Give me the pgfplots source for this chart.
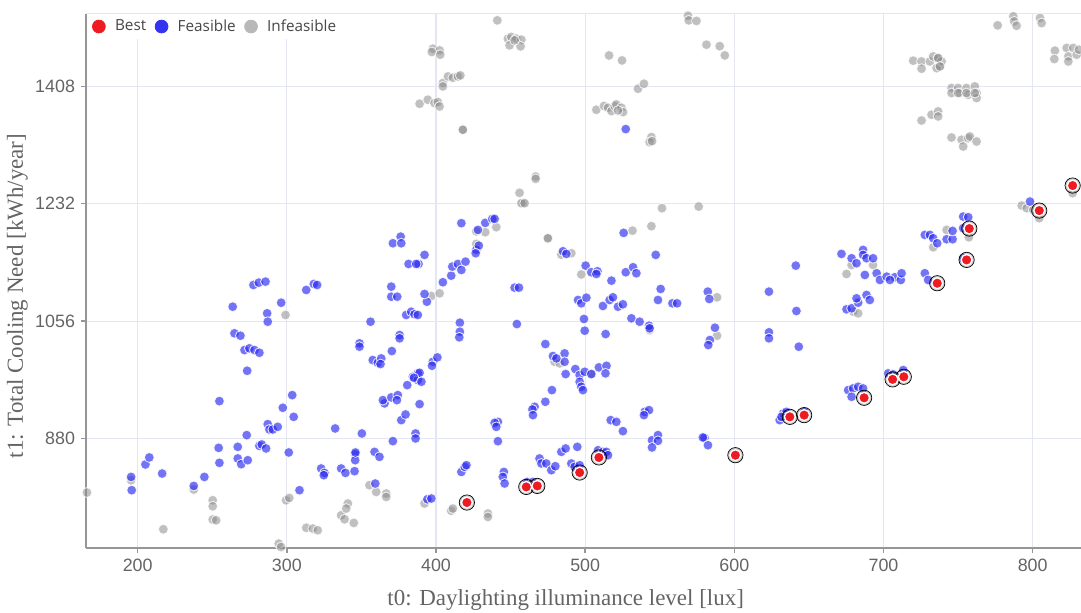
\documentclass[border=0pt]{standalone}
\usepackage{pgfplots}
\pgfplotsset{compat=1.18}
\usepackage{fontspec}
\setmainfont{Liberation Serif}
\newfontfamily\tickfont{Liberation Sans}
\newfontfamily\legendfont{Open Sans}

\definecolor{bestcol}{RGB}{238,28,34}
\definecolor{feascol}{RGB}{40,40,240}
\definecolor{infcol}{RGB}{140,140,140}
\definecolor{gridcol}{RGB}{228,230,244}
\definecolor{axiscol}{RGB}{150,150,150}
\definecolor{labcol}{RGB}{100,100,100}

\begin{document}
\begin{tikzpicture}
\begin{axis}[
    width=585pt, height=314pt, scale only axis,
    xmin=165.4, xmax=832.4, ymin=715.7, ymax=1516.7,
    xtick={200,300,400,500,600,700,800},
    ytick={880,1056,1232,1408},
    axis lines*=left,
    axis line style={draw=axiscol, line width=0.9pt},
    tick style={draw=axiscol, line width=0.8pt},
    tick align=outside, major tick length=3pt,
    xmajorgrids, ymajorgrids,
    grid style={draw=gridcol, line width=0.6pt},
    /pgf/number format/assume math mode=true,
    /pgf/number format/1000 sep={},
    ticklabel style={font=\tickfont\fontsize{10.5}{12}\selectfont, text=labcol},
    xlabel={t0: Daylighting illuminance level [lux]},
    ylabel={t1: Total Cooling Need [kWh/year]},
    label style={font=\fontsize{13.5}{15}\selectfont, text=labcol},
    xlabel style={at={(axis description cs:0.482,-0.097)}, anchor=center},
    ylabel style={at={(axis description cs:-0.069,0.472)}, anchor=center},
    legend columns=3,
    legend style={at={(axis description cs:0.004,1.0)}, anchor=north west,
        draw=none, fill=white, inner sep=1pt,
        font=\legendfont\fontsize{9}{11}\selectfont, text=black!72,
        /tikz/every odd column/.append style={column sep=3.5pt},
        /tikz/every even column/.append style={column sep=3pt}},
]
\addlegendimage{legend image code/.code={\fill[bestcol] (0pt,0pt) circle (3.8pt);}}
\addlegendentry{Best}
\addlegendimage{legend image code/.code={\fill[feascol!95!white] (0pt,0pt) circle (3.8pt);}}
\addlegendentry{Feasible}
\addlegendimage{legend image code/.code={\fill[black!28] (0pt,0pt) circle (3.8pt);}}
\addlegendentry{Infeasible}

\draw[gridcol, line width=0.6pt] (rel axis cs:0,1) -- (rel axis cs:1,1);

% infeasible
\addplot[only marks, mark=*, mark size=2.9pt, forget plot,
    mark options={fill=infcol, fill opacity=0.55, draw=white, draw opacity=0.8, line width=0.5pt}]
coordinates {
(166.0,798.9)(195.6,817.4)(217.2,743.8)(237.6,803.4)(250.3,787.3)(250.3,778.3)(250.3,758.4)
(252.6,757.3)(299.5,787.3)(301.6,790.8)(294.6,722.3)(296.1,717.2)(313.0,746.0)(317.4,744.8)
(320.7,742.3)(336.4,764.8)(338.7,758.8)(344.9,753.3)(340.9,782.4)(339.8,774.9)(355.4,809.9)
(359.9,799.8)(366.6,797.4)(366.6,792.3)(299.1,1065.2)(392.3,782.4)(410.2,771.6)(411.3,774.9)
(434.8,767.4)(434.8,762.3)(396.8,1093.7)(402.4,1097.7)(427.0,1190.6)(433.0,1189.4)(440.4,1196.9)
(427.0,1171.8)(475.0,1180.3)(475.0,1180.3)(484.0,1155.7)(490.7,1157.8)(497.4,1126.0)(479.5,995.0)
(482.9,992.6)(504.1,976.6)(458.3,1232.9)(456.0,1248.4)(457.2,1232.9)(459.4,1232.9)(466.8,1272.8)
(466.8,1269.4)(418.0,1343.0)(418.0,1343.0)(389.0,1382.0)(394.5,1388.0)(399.0,1383.1)(401.2,1384.6)
(402.4,1377.9)(404.6,1413.1)(404.6,1408.0)(408.0,1423.0)(411.3,1421.0)(414.7,1423.0)(416.3,1424.5)
(397.9,1464.6)(402.4,1462.1)(397.2,1459.7)(402.8,1455.6)(441.1,1507.1)(448.2,1479.6)(450.5,1482.2)
(453.8,1479.6)(457.2,1478.1)(449.3,1469.6)(456.7,1468.1)(452.7,1477.1)(507.5,1373.0)(512.6,1378.6)
(515.3,1376.0)(517.6,1371.0)(519.8,1378.6)(520.9,1381.0)(524.3,1376.0)(525.4,1369.5)(522.0,1371.9)
(516.0,1454.5)(524.7,1447.0)(535.4,1404.5)(539.4,1412.0)(544.4,1332.0)(543.2,1324.5)(544.8,1326.0)
(551.5,1225.4)(576.1,1227.8)(544.4,1198.4)(531.7,1191.7)(568.9,1514.0)(569.4,1507.1)(574.6,1506.2)
(581.3,1470.6)(590.2,1468.4)(593.6,1454.5)(588.4,1091.7)(588.4,1034.1)(543.2,1042.6)(675.2,1126.7)
(693.0,1140.2)(678.6,1140.2)(679.7,1070.1)(683.0,1067.7)(733.3,1166.8)(742.3,1192.8)(757.2,1181.8)
(792.6,1229.3)(796.0,1225.4)(800.4,1222.8)(804.4,1210.4)(826.8,1247.9)
(719.9,1446.6)(725.5,1445.5)(725.5,1434.6)(731.1,1445.5)(733.3,1453.0)(736.6,1450.5)(737.8,1438.0)
(735.6,1435.5)(738.9,1445.5)(736.6,1450.5)(737.8,1438.0)
(745.6,1405.6)(745.6,1398.1)(750.0,1405.6)(751.2,1398.1)(755.6,1405.6)(756.7,1395.5)(761.2,1408.0)
(762.4,1398.1)(762.4,1390.6)(750.0,1398.1)(755.6,1398.1)(761.2,1398.1)
(725.5,1356.9)(732.2,1365.5)(736.6,1370.5)(736.6,1363.0)(745.6,1331.4)(752.3,1328.0)(753.4,1317.9)
(756.8,1330.5)(757.9,1332.9)(762.4,1325.4)(776.5,1499.6)(787.0,1513.1)(787.6,1505.6)(789.2,1499.0)
(804.9,1510.7)(806.0,1503.0)(814.9,1461.6)(814.5,1449.1)(822.8,1465.7)(823.9,1453.0)(827.2,1465.7)
(829.5,1455.6)(823.9,1445.5)(831.0,1463.1)
};

% feasible
\addplot[only marks, mark=*, mark size=2.9pt, forget plot,
    mark options={fill=feascol, fill opacity=0.65, draw=white, draw opacity=0.85, line width=0.5pt}]
coordinates {
(195.6,822.3)(196.0,802.4)(205.2,841.0)(207.8,851.5)(216.4,827.4)(237.6,808.8)(244.7,822.3)
(254.3,865.9)(254.8,843.4)(254.8,936.0)(263.7,1077.6)(264.9,1037.7)(268.9,1034.1)(267.1,867.4)
(267.1,850.0)(269.4,841.4)(273.8,847.4)(271.6,1012.6)(274.9,1015.2)(278.3,1012.6)(281.6,1008.5)
(273.4,981.5)(277.6,1110.2)(281.2,1113.7)(285.7,1115.2)(273.1,885.0)(281.6,868.9)(283.2,871.0)
(286.1,865.0)(286.8,1067.7)(287.2,1055.1)(287.2,901.5)(288.3,893.5)(290.6,893.5)(293.9,897.4)
(296.2,1083.6)(297.3,926.0)(303.6,945.0)(304.6,912.4)(301.3,859.0)(308.5,802.4)(313.0,1102.7)
(318.1,1111.7)(320.3,1110.2)(323.0,835.0)(325.2,828.3)(324.8,824.9)(332.4,895.0)(336.4,835.0)
(339.3,828.3)(345.4,830.9)(345.8,856.4)(345.8,847.4)(346.0,859.0)(348.7,1022.7)(348.7,1017.6)
(350.3,887.5)(356.1,1055.1)(357.6,997.6)(361.0,993.5)(363.3,1000.1)(362.8,991.6)(358.8,859.9)
(362.1,852.4)(359.3,812.4)(370.4,1011.1)(371.1,876.0)(375.6,1035.1)(375.6,1030.2)(370.0,1107.7)
(370.0,1092.6)(374.0,1092.6)(371.1,1172.8)(376.3,1182.7)(376.7,1172.8)(380.0,1065.2)(383.4,1070.1)
(385.6,1066.2)(387.8,1065.2)(365.5,932.6)(364.4,937.5)(370.0,941.6)(374.4,945.0)(373.8,937.5)
(376.7,907.5)(379.6,916.0)(380.7,960.0)(384.5,972.5)(387.8,977.6)(387.8,967.5)(386.3,887.5)
(386.3,880.0)(381.6,1141.7)(388.3,1141.7)(392.3,1155.3)(386.7,1141.7)(389.0,931.5)(393.9,1085.1)
(392.3,1096.7)(397.9,995.0)(400.9,1001.6)(397.3,989.0)(389.0,978.5)(385.2,971.0)(390.2,965.0)
(394.2,788.8)(396.9,789.9)(404.6,1114.3)(410.2,1124.2)(410.9,1137.7)(414.7,1141.7)(419.8,1145.2)
(417.0,1132.7)(417.0,1202.9)(428.1,1192.8)(433.0,1203.3)(437.7,1209.3)(439.3,1209.3)(427.0,1163.0)
(428.7,1169.2)(426.6,1157.8)(416.0,1053.6)(416.0,1040.1)(415.6,1031.7)(417.0,829.8)(419.3,837.4)
(420.4,839.9)(441.5,904.9)(439.3,903.4)(440.4,897.4)(441.5,875.9)(445.5,829.8)(444.8,822.3)
(446.0,812.4)(452.7,1106.2)(455.6,1106.2)(454.2,1051.6)(461.2,814.8)(464.9,814.8)(462.7,807.3)
(469.4,850.0)(470.6,842.5)(473.9,842.5)(477.3,832.4)(480.0,838.4)(484.0,859.9)(486.9,865.0)
(494.7,867.4)(490.7,842.5)(492.9,837.4)(496.3,839.9)(508.6,862.4)(511.9,859.9)(514.2,859.9)
(515.3,854.9)(473.3,1021.6)(478.4,1003.6)(486.2,1007.6)(486.2,995.0)(486.9,976.6)(480.7,1000.1)
(493.4,984.1)(496.3,975.1)(499.7,980.0)(504.1,976.6)(509.2,986.6)(514.3,989.0)(513.6,977.6)
(496.3,965.0)(497.4,957.5)(498.5,952.5)(477.7,952.5)(473.3,935.0)(466.1,927.5)(464.6,923.5)
(465.0,915.0)(485.1,1160.8)(487.4,1156.8)(500.3,1139.2)(504.1,1129.3)(508.2,1130.8)(507.5,1126.7)
(517.6,1116.7)(527.2,1129.3)(532.1,1136.8)(534.3,1127.8)(525.8,1188.3)(547.3,1155.3)(550.6,1104.2)
(548.8,1087.7)(558.5,1082.7)(561.6,1082.7)(495.2,1087.7)(497.4,1082.7)(500.8,1091.1)(511.9,1078.7)
(516.4,1087.7)(518.6,1091.7)(522.0,1077.6)(525.3,1081.2)(499.2,1059.2)(499.7,1041.6)(513.7,1036.6)
(531.0,1060.2)(536.5,1055.1)(542.8,1049.1)(543.2,1045.2)(517.1,907.5)(520.9,904.9)(525.3,891.0)
(539.9,919.9)(542.8,922.5)(539.4,915.0)(544.8,877.4)(548.8,885.0)(548.8,876.4)(544.8,866.5)
(580.0,880.9)(582.3,869.9)(578.9,881.5)(582.2,1100.2)(583.2,1089.2)(587.0,1046.1)(583.6,1027.6)
(582.5,1020.1)(623.2,1100.2)(623.2,1039.2)(623.2,1030.2)(641.2,1139.2)(641.6,1071.2)(643.2,1017.6)
(630.4,907.5)(632.7,917.5)(634.9,919.9)(631.6,912.4)(646.8,919.9)(675.2,1073.7)(678.6,1075.2)
(683.0,1083.6)(681.9,1090.2)(688.6,1095.2)(690.8,1087.7)(671.8,1156.8)(678.6,1150.3)(681.9,1142.8)
(686.3,1162.8)(686.3,1155.3)(688.6,1150.3)(693.0,1150.3)(687.5,1125.2)(695.4,1127.8)(697.6,1117.7)
(702.1,1122.7)(707.6,1121.8)(711.6,1117.7)(712.1,1127.8)(704.3,1117.7)(676.3,952.5)(679.6,955.1)
(683.0,957.5)(686.3,955.1)(678.6,942.5)(703.1,977.6)(706.5,976.1)(713.2,982.6)(727.7,1185.3)
(731.1,1185.3)(733.3,1180.3)(736.0,1172.8)(742.3,1178.8)(746.3,1178.8)(746.3,1191.3)(727.7,1127.8)
(729.9,1117.7)(753.4,1212.8)(756.8,1211.9)(753.4,1195.4)(753.4,1150.3)(798.2,1235.3)(527.2,1344.0)
};

% best: soft shadow ring, then dot
\addplot[only marks, mark=*, mark size=4.5pt, forget plot,
    mark options={fill=black, fill opacity=0.2, draw=none}]
coordinates {
(420.7,783.9)(460.5,807.3)(467.9,808.8)(496.3,828.9)(509.2,851.5)(600.7,854.9)(637.2,912.4)
(646.8,915.0)(687.0,941.0)(706.1,968.6)(713.6,972.5)(736.0,1112.8)(755.7,1147.8)(757.5,1194.8)
(804.4,1221.8)(826.8,1259.3)
};
\addplot[only marks, mark=*, mark size=3.2pt, forget plot,
    mark options={fill=bestcol, draw=white, line width=0.8pt}]
coordinates {
(420.7,783.9)(460.5,807.3)(467.9,808.8)(496.3,828.9)(509.2,851.5)(600.7,854.9)(637.2,912.4)
(646.8,915.0)(687.0,941.0)(706.1,968.6)(713.6,972.5)(736.0,1112.8)(755.7,1147.8)(757.5,1194.8)
(804.4,1221.8)(826.8,1259.3)
};
\end{axis}
\pgfresetboundingbox
\path ([xshift=-50.6pt,yshift=-38.2pt]current axis.south west) rectangle ([yshift=8.2pt]current axis.north east);
\end{tikzpicture}
\end{document}
